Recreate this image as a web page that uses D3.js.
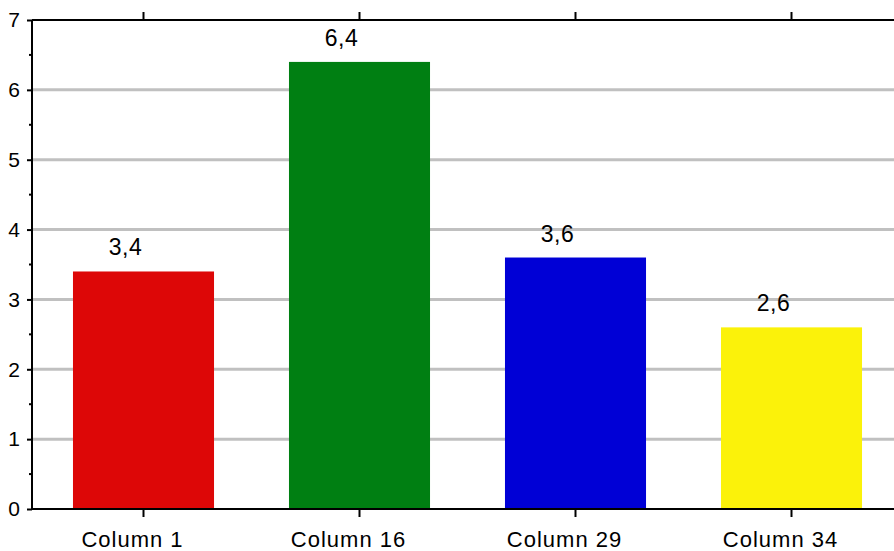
<!DOCTYPE html>
<html>
<head>
<meta charset="utf-8">
<script src="https://cdn.jsdelivr.net/npm/d3@7"></script>
<style>
  body { margin: 0; background: #fff; }
  text { font-family: "Liberation Sans", Arial, sans-serif; }
</style>
</head>
<body>
<div id="chart"></div>
<script>
const categories = ["Column 1", "Column 16", "Column 29", "Column 34"];
const values = [3.4, 6.4, 3.6, 2.6];
const colors = ["#dd0707", "#007f12", "#0000d6", "#fbf20a"];
const yTicks = [0, 1, 2, 3, 4, 5, 6, 7];

const W = 894, H = 551;
const margin = {top: 20, right: 0, bottom: 42, left: 32};
const width = W - margin.left - margin.right;
const height = H - margin.top - margin.bottom;

const svg = d3.select("#chart").append("svg")
    .attr("width", W).attr("height", H)
  .append("g")
    .attr("transform", `translate(${margin.left},${margin.top})`);

const x = d3.scaleBand()
  .domain(categories)
  .range([3.5, 867.5])
  .paddingInner(0.347)
  .paddingOuter(0.1735);

const y = d3.scaleLinear().domain([0, 7]).range([height, 0]);

// grid lines
svg.append("g")
  .selectAll("line")
  .data(yTicks.slice(1, -1))
  .enter().append("line")
    .attr("x1", 0).attr("x2", width)
    .attr("y1", d => y(d)).attr("y2", d => y(d))
    .attr("stroke", "#c0c0c0")
    .attr("stroke-width", 3);

// bars
svg.append("g")
  .selectAll("rect")
  .data(values)
  .enter().append("rect")
    .attr("x", (d, i) => x(categories[i]))
    .attr("width", x.bandwidth())
    .attr("y", d => y(d))
    .attr("height", d => height - y(d))
    .attr("fill", (d, i) => colors[i]);

// value labels
svg.append("g")
  .selectAll("text")
  .data(values)
  .enter().append("text")
    .attr("x", (d, i) => x(categories[i]) + x.bandwidth() / 2 - 18)
    .attr("y", d => y(d) - 16)
    .attr("text-anchor", "middle")
    .style("font-size", "23px")
    .style("letter-spacing", "0.5px")
    .attr("fill", "#000")
    .text(d => String(d).replace(".", ","));

// left axis
const yAxis = svg.append("g")
  .call(d3.axisLeft(y).tickValues(yTicks).tickSize(5).tickPadding(7).tickFormat(d3.format("d")));
yAxis.select(".domain").attr("stroke-width", 2).attr("d", `M0,0V${height}`);
yAxis.selectAll(".tick line").attr("stroke-width", 2);
yAxis.selectAll(".tick text").style("font-size", "21px").attr("fill", "#000");

// minor ticks
svg.append("g")
  .selectAll("line")
  .data(yTicks.slice(0, -1).map(d => d + 0.5))
  .enter().append("line")
    .attr("x1", -3).attr("x2", 0)
    .attr("y1", d => y(d)).attr("y2", d => y(d))
    .attr("stroke", "#000").attr("stroke-width", 2);

// bottom axis
const xAxis = svg.append("g")
  .attr("transform", `translate(0,${height})`)
  .call(d3.axisBottom(x).tickSize(8).tickPadding(14));
xAxis.select(".domain").attr("stroke-width", 2).attr("d", `M0,0H${width}`);
xAxis.selectAll(".tick line").attr("stroke-width", 2);
xAxis.selectAll(".tick text")
  .attr("dx", -11)
  .style("font-size", "22px")
  .style("letter-spacing", "1px")
  .attr("fill", "#000");

// top axis
const topAxis = svg.append("g")
  .call(d3.axisTop(x).tickSize(8).tickFormat(""));
topAxis.select(".domain").attr("stroke-width", 2).attr("d", `M0,0H${width}`);
topAxis.selectAll(".tick line").attr("stroke-width", 2);
</script>
</body>
</html>
